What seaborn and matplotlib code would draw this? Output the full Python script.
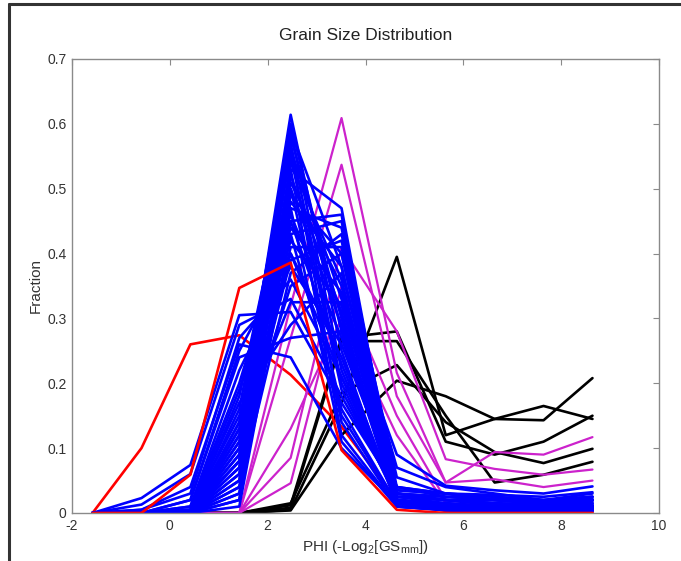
import numpy as np
import pandas as pd
import matplotlib
matplotlib.use("Agg")
import matplotlib.pyplot as plt
from matplotlib.lines import Line2D
import seaborn as sns

# Sieve classes in phi units (-log2 of grain size in mm)
phi = [-1.58, -0.58, 0.42, 1.42, 2.47, 3.51, 4.64, 5.64, 6.64, 7.64, 8.64]

# Grain-size fractions per sample, grouped by cluster
red_samples = [
    [0, 0.100, 0.260, 0.274, 0.213, 0.133, 0.020, 0.003, 0.002, 0.001, 0.001],
    [0, 0.000, 0.059, 0.347, 0.386, 0.097, 0.005, 0.000, 0.000, 0.000, 0.000],
]

blue_samples = [
    [0, 0, 0, 0.12, 0.614, 0.25, 0.010, 0.005, 0.003, 0.002, 0.004],
    [0, 0, 0, 0.10, 0.600, 0.28, 0.015, 0.006, 0.004, 0.003, 0.005],
    [0, 0, 0, 0.14, 0.590, 0.22, 0.020, 0.008, 0.005, 0.004, 0.006],
    [0, 0, 0, 0.08, 0.580, 0.30, 0.010, 0.004, 0.002, 0.002, 0.003],
    [0, 0, 0, 0.16, 0.570, 0.20, 0.020, 0.010, 0.006, 0.005, 0.008],
    [0, 0, 0, 0.06, 0.560, 0.33, 0.015, 0.010, 0.008, 0.006, 0.010],
    [0, 0, 0, 0.18, 0.550, 0.19, 0.025, 0.015, 0.010, 0.008, 0.012],
    [0, 0, 0, 0.04, 0.540, 0.36, 0.020, 0.012, 0.010, 0.007, 0.010],
    [0, 0, 0, 0.11, 0.520, 0.31, 0.015, 0.008, 0.005, 0.004, 0.006],
    [0, 0, 0, 0.09, 0.510, 0.35, 0.020, 0.010, 0.006, 0.005, 0.007],
    [0, 0, 0, 0.13, 0.500, 0.29, 0.025, 0.020, 0.015, 0.012, 0.018],
    [0, 0, 0, 0.05, 0.490, 0.40, 0.020, 0.010, 0.008, 0.006, 0.009],
    [0, 0, 0, 0.07, 0.480, 0.38, 0.015, 0.010, 0.006, 0.004, 0.006],
    [0, 0, 0, 0.03, 0.470, 0.44, 0.020, 0.012, 0.008, 0.006, 0.010],
    [0, 0, 0.010, 0.20, 0.460, 0.27, 0.030, 0.020, 0.012, 0.010, 0.015],
    [0, 0, 0, 0.02, 0.450, 0.46, 0.015, 0.010, 0.006, 0.005, 0.008],
    [0, 0, 0, 0.12, 0.440, 0.34, 0.030, 0.020, 0.015, 0.012, 0.020],
    [0, 0, 0, 0.01, 0.430, 0.45, 0.040, 0.025, 0.020, 0.015, 0.022],
    [0, 0, 0.005, 0.15, 0.420, 0.32, 0.030, 0.020, 0.020, 0.015, 0.020],
    [0, 0, 0, 0.06, 0.410, 0.41, 0.025, 0.020, 0.015, 0.010, 0.015],
    [0, 0, 0.020, 0.25, 0.400, 0.24, 0.020, 0.015, 0.010, 0.010, 0.012],
    [0, 0, 0, 0.08, 0.390, 0.42, 0.035, 0.030, 0.020, 0.015, 0.020],
    [0, 0, 0.010, 0.22, 0.380, 0.26, 0.040, 0.030, 0.025, 0.020, 0.025],
    [0, 0, 0, 0.04, 0.370, 0.43, 0.055, 0.030, 0.020, 0.015, 0.020],
    [0, 0.005, 0.030, 0.27, 0.360, 0.21, 0.025, 0.020, 0.015, 0.012, 0.015],
    [0, 0, 0, 0.10, 0.350, 0.40, 0.030, 0.025, 0.022, 0.020, 0.025],
    [0, 0.013, 0.060, 0.29, 0.330, 0.18, 0.030, 0.025, 0.020, 0.015, 0.020],
    [0, 0, 0, 0.13, 0.325, 0.325, 0.090, 0.042, 0.035, 0.030, 0.041],
    [0, 0.023, 0.074, 0.305, 0.310, 0.17, 0.035, 0.030, 0.028, 0.025, 0.032],
    [0, 0, 0.005, 0.17, 0.290, 0.37, 0.070, 0.040, 0.030, 0.020, 0.030],
    [0, 0, 0.020, 0.24, 0.270, 0.28, 0.040, 0.030, 0.025, 0.018, 0.025],
    [0, 0, 0, 0.09, 0.560, 0.14, 0.010, 0.005, 0.003, 0.002, 0.003],
    [0, 0, 0, 0.07, 0.530, 0.12, 0.010, 0.008, 0.006, 0.004, 0.006],
    [0, 0, 0, 0.05, 0.500, 0.16, 0.015, 0.010, 0.007, 0.005, 0.008],
    [0, 0, 0, 0.03, 0.470, 0.11, 0.010, 0.005, 0.004, 0.003, 0.004],
    [0, 0, 0, 0.14, 0.450, 0.23, 0.020, 0.012, 0.008, 0.006, 0.010],
    [0, 0, 0.005, 0.19, 0.430, 0.15, 0.015, 0.010, 0.007, 0.005, 0.008],
    [0, 0, 0, 0.11, 0.400, 0.21, 0.020, 0.015, 0.010, 0.008, 0.012],
    [0, 0, 0, 0.02, 0.530, 0.47, 0.020, 0.010, 0.008, 0.006, 0.009],
    [0, 0, 0, 0.08, 0.590, 0.38, 0.015, 0.010, 0.006, 0.005, 0.008],
    [0, 0.005, 0.040, 0.26, 0.240, 0.10, 0.015, 0.010, 0.008, 0.006, 0.010],
]

magenta_samples = [
    [0, 0, 0, 0, 0.320, 0.609, 0.216, 0.047, 0.052, 0.040, 0.050],
    [0, 0, 0, 0, 0.270, 0.537, 0.180, 0.047, 0.094, 0.090, 0.117],
    [0, 0, 0, 0, 0.085, 0.410, 0.280, 0.083, 0.068, 0.059, 0.067],
    [0, 0, 0, 0, 0.046, 0.350, 0.150, 0.020, 0.012, 0.010, 0.012],
    [0, 0, 0, 0, 0.130, 0.300, 0.120, 0.015, 0.010, 0.008, 0.010],
]

black_samples = [
    [0, 0, 0, 0, 0.005, 0.170, 0.395, 0.120, 0.145, 0.165, 0.145],
    [0, 0, 0, 0, 0.012, 0.270, 0.280, 0.110, 0.090, 0.110, 0.150],
    [0, 0, 0, 0, 0.008, 0.265, 0.265, 0.150, 0.047, 0.059, 0.079],
    [0, 0, 0, 0, 0.015, 0.185, 0.228, 0.140, 0.094, 0.077, 0.099],
    [0, 0, 0, 0, 0.004, 0.120, 0.204, 0.180, 0.145, 0.143, 0.208],
]

x_ticks = [-2, 0, 2, 4, 6, 8, 10]
y_ticks = [0, 0.1, 0.2, 0.3, 0.4, 0.5, 0.6, 0.7]
y_tick_labels = ["0", "0.1", "0.2", "0.3", "0.4", "0.5", "0.6", "0.7"]

# Long-form table: one row per (sample, phi class)
rows = []
for gname, samples in [("red", red_samples), ("black", black_samples),
                       ("magenta", magenta_samples), ("blue", blue_samples)]:
    for i, vals in enumerate(samples):
        for p, v in zip(phi, vals):
            rows.append({"group": gname, "sample": f"{gname}{i}", "phi": p, "fraction": v})
df = pd.DataFrame(rows)

# Samples were plotted in this sequence (later ones sit on top)
draw_order = [
    ["red0"],
    [f"black{i}" for i in range(len(black_samples))],
    [f"magenta{i}" for i in range(len(magenta_samples))],
    ["red1"],
    [f"blue{i}" for i in range(len(blue_samples))],
]

sns.set_theme(style="white")
plt.rcParams["font.family"] = ["Liberation Sans", "DejaVu Sans"]
plt.rcParams["axes.unicode_minus"] = False
plt.rcParams["mathtext.fontset"] = "custom"
plt.rcParams["mathtext.rm"] = "Liberation Sans"

fig = plt.figure(figsize=(6.81, 5.61), dpi=100)
ax = fig.add_axes([72 / 681, 1 - 513 / 561, (659 - 72) / 681, (513 - 59) / 561])

styles = {
    "black": dict(color="#000000", lw=1.9),
    "magenta": dict(color="#cc22cc", lw=1.6),
    "blue": dict(color="#0000ff", lw=1.9),
    "red": dict(color="#ff0000", lw=1.9),
}
for k, names in enumerate(draw_order):
    sub = df[df["sample"].isin(names)]
    gname = sub["group"].iloc[0]
    sns.lineplot(data=sub, x="phi", y="fraction", units="sample", estimator=None,
                 sort=False, ax=ax, legend=False, **styles[gname])
# the late red sample sits above the blue bundle
ax.lines[len(black_samples) + len(magenta_samples) + 1].set_zorder(2.2)

ax.set_xlim(-2, 10)
ax.set_ylim(0, 0.7)
ax.set_xticks(x_ticks)
ax.set_xticklabels([str(t) for t in x_ticks])
ax.set_yticks(y_ticks)
ax.set_yticklabels(y_tick_labels)

for sp in ax.spines.values():
    sp.set_color("#8a8a8a")
    sp.set_linewidth(1.0)
    sp.set_zorder(3)
ax.tick_params(direction="in", length=4, width=0.8, color="#8a8a8a",
               top=True, right=True, labelsize=10, labelcolor="#333333", pad=4)

ax.set_title("Grain Size Distribution", fontsize=12.5, color="#222222", pad=14)
ax.set_xlabel(r"PHI (-Log$_\mathregular{2}$[GS$_\mathregular{mm}$])", fontsize=11,
              color="#333333", labelpad=4)
ax.set_ylabel("Fraction", fontsize=11, color="#333333", labelpad=3)

# Dark page frame on the left and top edges
fig.add_artist(Line2D([9 / 681, 9 / 681], [0, 1 - 4 / 561], transform=fig.transFigure,
                      color="#333333", lw=2.2))
fig.add_artist(Line2D([9 / 681, 1], [1 - 4 / 561, 1 - 4 / 561], transform=fig.transFigure,
                      color="#333333", lw=2.2))

fig.savefig("out.png", dpi=100)
